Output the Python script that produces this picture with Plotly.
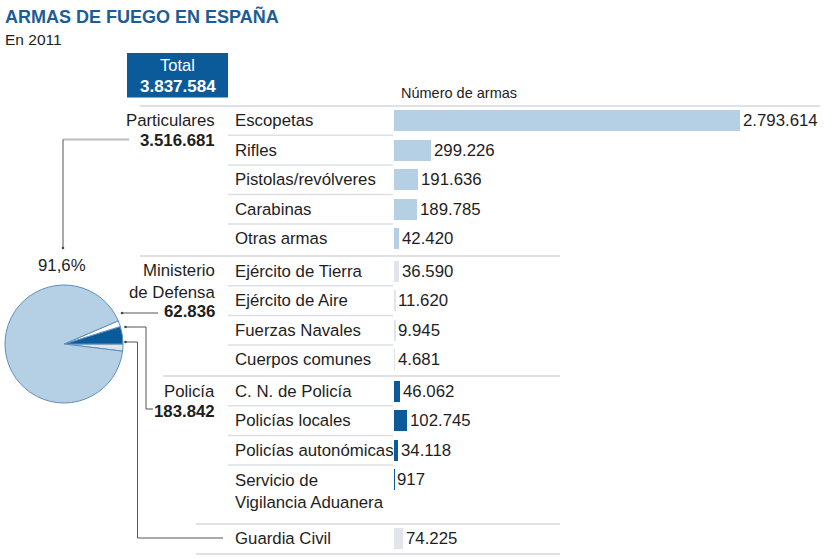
import plotly.graph_objects as go

# ---------------- data ----------------
categories = ["Escopetas", "Rifles", "Pistolas/revólveres", "Carabinas", "Otras armas",
              "Ejército de Tierra", "Ejército de Aire", "Fuerzas Navales", "Cuerpos comunes",
              "C. N. de Policía", "Policías locales", "Policías autonómicas",
              "Servicio de<br>Vigilancia Aduanera", "Guardia Civil"]
values = [2793614, 299226, 191636, 189785, 42420,
          36590, 11620, 9945, 4681,
          46062, 102745, 34118, 917,
          74225]
groups = ["Particulares"] * 5 + ["Ministerio de Defensa"] * 4 + ["Policía"] * 4 + ["Guardia Civil"]
group_names = ["Particulares", "Ministerio de Defensa", "Policía", "Guardia Civil"]
group_labels = ["Particulares", "Ministerio<br>de Defensa", "Policía", None]
total = 3837584

title = "ARMAS DE FUEGO EN ESPAÑA"
subtitle = "En 2011"
axis_title = "Número de armas"

# ---------------- styling / layout ----------------
W, H = 827, 559
FONT = "Liberation Sans, Arial, sans-serif"
TXT = "#1e1e1e"
DARK = "#0b5a9a"
LIGHT = "#b5cfe4"
GREY = "#e1e4e8"
SEP = "#d4d7db"
FS = 16.8
group_colors = {"Particulares": LIGHT, "Ministerio de Defensa": GREY,
                "Policía": DARK, "Guardia Civil": GREY}
pie_colors = {"Particulares": LIGHT, "Ministerio de Defensa": "#ffffff",
              "Policía": DARK, "Guardia Civil": GREY}

# vertical layout of rows (pixel units, top = 0)
group_start = {"Particulares": 120.5, "Ministerio de Defensa": 271.0,
               "Policía": 391.0, "Guardia Civil": 538.5}
PITCH = 29.6
rows_y = []
count = {}
for g in groups:
    k = count.get(g, 0)
    rows_y.append(group_start[g] + k * PITCH)
    count[g] = k + 1

BAR_X0 = 394.0
BAR_MAXPX = 345.5  # pixel length of the largest bar


def X(px):
    return px / W


def fmt(v):
    return f"{v:,}".replace(",", ".")


group_totals = {g: sum(v for v, gg in zip(values, groups) if gg == g) for g in group_names}

fig = go.Figure()

# bars
fig.add_trace(go.Bar(
    x=values, y=rows_y, orientation="h", width=21,
    marker=dict(color=[group_colors[g] for g in groups], line=dict(width=0)),
    hoverinfo="skip", showlegend=False,
))

# pie
pie_order = ["Guardia Civil", "Policía", "Ministerio de Defensa", "Particulares"]
fig.add_trace(go.Pie(
    values=[group_totals[g] for g in pie_order], labels=pie_order,
    marker=dict(colors=[pie_colors[g] for g in pie_order], line=dict(color="#5d8fbe", width=1)),
    sort=False, direction="counterclockwise", rotation=90,
    textinfo="none", hoverinfo="skip", showlegend=False,
    domain=dict(x=[X(5), X(123)], y=[1 - 403 / H, 1 - 285 / H]),
))

xmax = max(values) * (W - BAR_X0) / BAR_MAXPX

ann = []
shapes = []


def text(x, y, t, size=FS, color=TXT, anchor="left", bold=False):
    if bold:
        t = f"<b>{t}</b>"
    ann.append(dict(x=X(x), y=y, xref="paper", yref="y", text=t, showarrow=False,
                    xanchor=anchor, yanchor="middle", align=anchor if anchor != "center" else "center",
                    font=dict(family=FONT, size=size, color=color)))


def line(x0, y0, x1, y1, color=SEP, width=1.5):
    shapes.append(dict(type="line", xref="paper", yref="y", x0=X(x0), y0=y0, x1=X(x1), y1=y1,
                       line=dict(color=color, width=width), layer="below"))


def dot(x, y, r=1.3, color="#444444"):
    shapes.append(dict(type="circle", xref="paper", yref="y", x0=X(x - r), x1=X(x + r),
                       y0=y - r, y1=y + r, fillcolor=color, line=dict(width=0)))


# value labels next to bars (data coordinates)
for v, y in zip(values, rows_y):
    ann.append(dict(x=v, y=y, xref="x", yref="y", text=fmt(v), showarrow=False,
                    xanchor="left", yanchor="middle", xshift=1,
                    font=dict(family=FONT, size=FS, color=TXT)))

# title & subtitle
text(3, 16, title, size=18, color="#1d5c96", bold=True)
text(3, 39, subtitle, size=15.5, color=TXT)

# total box
shapes.append(dict(type="rect", xref="paper", yref="y", x0=X(127), x1=X(228), y0=53, y1=97.5,
                   fillcolor=DARK, line=dict(width=0)))
text(177.5, 64.5, "Total", size=16.5, color="white", anchor="center")
text(177.5, 86, fmt(total), size=17, color="white", anchor="center", bold=True)

text(399, 92.5, axis_title, size=14.5)

# row labels + row separators
for i, (c, y, g) in enumerate(zip(categories, rows_y, groups)):
    if "<br>" in c:
        text(233, y + 11.5, c)
    else:
        text(233, y, c)
    nxt = groups[i + 1] if i + 1 < len(groups) else None
    if nxt == g:
        line(228, y + 14.8, 393, y + 14.8, color="#dde0e4", width=1.5)

# group separators
line(140, 106, 820, 106)
line(140, 256, 560, 256)
line(163, 376, 560, 376)
line(196, 524, 560, 524)
line(196, 554, 560, 554)

# group labels
for g, lab in zip(group_names, group_labels):
    if lab is None:
        continue
    y0 = group_start[g]
    nlines = lab.count("<br>") + 1
    if nlines == 1:
        text(217, y0, lab, anchor="right")
        text(217, y0 + 20, fmt(group_totals[g]), anchor="right", bold=True)
    else:
        text(217, y0 + 10, lab, anchor="right")
        text(217, y0 + 40, fmt(group_totals[g]), anchor="right", bold=True)

# pie share label
share = group_totals["Particulares"] / total * 100
text(62, 265, f"{share:.1f}%".replace(".", ","), anchor="center")

# connectors
CON = "#555555"
line(63, 139.5, 129, 139.5, color="#bdbdbd", width=2)
line(63, 139.5, 63, 248, color=CON, width=1)
dot(63, 248)
line(122, 313, 158, 313, color=CON, width=1)
dot(122, 313)
line(125.5, 327, 146, 327, color=CON, width=1)
line(146, 327, 146, 409, color=CON, width=1)
line(146, 409, 153, 409, color=CON, width=1)
dot(125.5, 327)
line(125.5, 342, 137.5, 342, color=CON, width=1)
line(137.5, 342, 137.5, 538, color=CON, width=1)
line(137.5, 538, 223, 538, color=CON, width=1)
dot(125.5, 342)

fig.update_layout(
    width=W, height=H, margin=dict(l=0, r=0, t=0, b=0),
    paper_bgcolor="white", plot_bgcolor="rgba(0,0,0,0)",
    xaxis=dict(domain=[X(BAR_X0), 1], range=[0, xmax], visible=False, fixedrange=True),
    yaxis=dict(domain=[0, 1], range=[H, 0], visible=False, fixedrange=True),
    annotations=ann, shapes=shapes, bargap=0, separators=",.",
    font=dict(family=FONT, color=TXT),
)

fig.write_html("out.html")
